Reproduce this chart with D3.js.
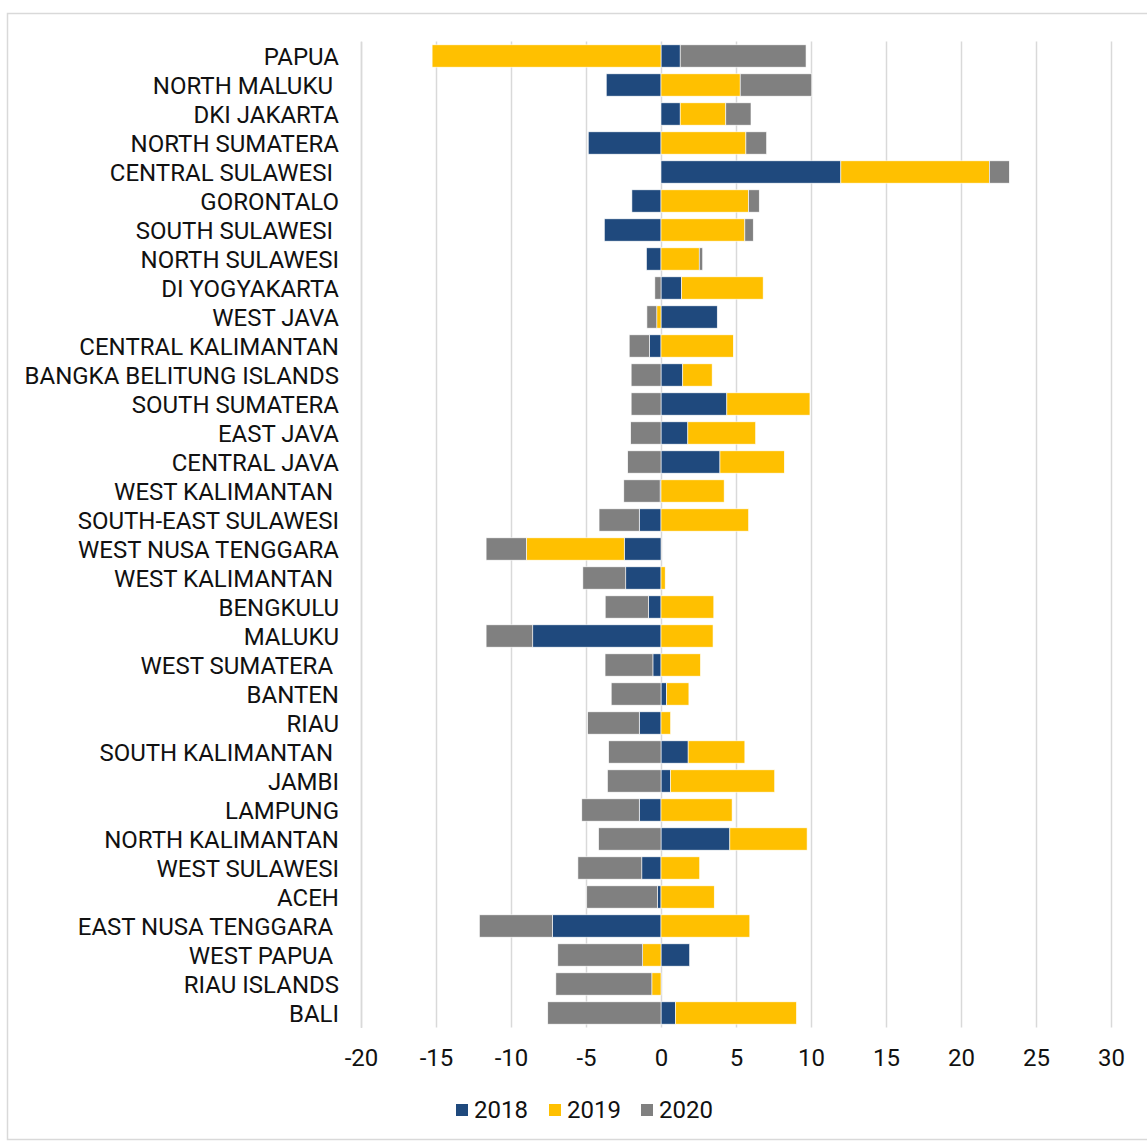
<!DOCTYPE html>
<html>
<head>
<meta charset="utf-8">
<script src="https://cdn.jsdelivr.net/npm/d3@7"></script>
<style>
  html, body { margin: 0; padding: 0; background: #fff; }
  svg { display: block; }
  svg text { font-family: Roboto, "Noto Sans", sans-serif; }
  .cat text { white-space: pre; }
</style>
</head>
<body>
<svg id="chart" width="1147" height="1142"></svg>
<script>
// Provinces, top to bottom (a trailing space is part of some labels)
const provinces = [
  "PAPUA", "NORTH MALUKU ", "DKI JAKARTA", "NORTH SUMATERA", "CENTRAL SULAWESI ",
  "GORONTALO", "SOUTH SULAWESI ", "NORTH SULAWESI", "DI YOGYAKARTA", "WEST JAVA",
  "CENTRAL KALIMANTAN", "BANGKA BELITUNG ISLANDS", "SOUTH SUMATERA", "EAST JAVA",
  "CENTRAL JAVA", "WEST KALIMANTAN ", "SOUTH-EAST SULAWESI", "WEST NUSA TENGGARA",
  "WEST KALIMANTAN ", "BENGKULU", "MALUKU", "WEST SUMATERA ", "BANTEN", "RIAU",
  "SOUTH KALIMANTAN ", "JAMBI", "LAMPUNG", "NORTH KALIMANTAN", "WEST SULAWESI",
  "ACEH", "EAST NUSA TENGGARA ", "WEST PAPUA ", "RIAU ISLANDS", "BALI"
];

// Yearly values per province, same order as above
const v2018 = [
   1.28, -3.65,  1.28, -4.85, 11.99, -1.94, -3.78, -0.97,  1.38,  3.75,
  -0.77,  1.45,  4.39,  1.79,  3.93, -0.06, -1.45, -2.45, -2.35, -0.84,
  -8.55, -0.54,  0.38, -1.45,  1.81,  0.64, -1.45,  4.59, -1.28, -0.23,
  -7.24,  1.91,  0.00,  0.97
];
const v2019 = [
 -15.26,  5.28,  3.04,  5.66,  9.90,  5.84,  5.59,  2.55,  5.43, -0.28,
   4.82,  1.96,  5.54,  4.52,  4.29,  4.21,  5.84, -6.53,  0.28,  3.52,
   3.47,  2.63,  1.48,  0.64,  3.78,  6.94,  4.74,  5.15,  2.58,  3.55,
   5.92, -1.22, -0.61,  8.06
];
const v2020 = [
   8.39,  4.77,  1.68,  1.38,  1.33,  0.71,  0.56,  0.23, -0.41, -0.66,
  -1.35, -1.99, -1.99, -2.02, -2.22, -2.42, -2.68, -2.68, -2.86, -2.88,
  -3.11, -3.19, -3.32, -3.44, -3.49, -3.57, -3.83, -4.16, -4.26, -4.72,
  -4.87, -5.66, -6.40, -7.55
];

const seriesNames = ["2018", "2019", "2020"];
const seriesColors = ["#1f497d", "#ffc000", "#808080"];
const xTicks = [-20, -15, -10, -5, 0, 5, 10, 15, 20, 25, 30];

// Rows for the stack layout
const rows = provinces.map((p, i) => ({
  idx: i, name: p, "2018": v2018[i], "2019": v2019[i], "2020": v2020[i]
}));

const svg = d3.select("#chart");
const FONT = 'Roboto, "Noto Sans", sans-serif';
const FS = 24;

// Outer frame
svg.append("rect")
  .attr("x", 7.5).attr("y", 13.5)
  .attr("width", 1150).attr("height", 1126)
  .attr("fill", "#fff").attr("stroke", "#d9d9d9").attr("stroke-width", 1.5);

const x = d3.scaleLinear().domain([-20, 30]).range([361, 1111]);
const y = d3.scaleBand()
  .domain(rows.map(d => d.idx))
  .range([41.5, 1027.5])
  .paddingInner(0.23)
  .paddingOuter(0.115);

// Vertical gridlines
svg.append("g").selectAll("line")
  .data(xTicks)
  .join("line")
  .attr("x1", d => Math.round(x(d)) + 0.5)
  .attr("x2", d => Math.round(x(d)) + 0.5)
  .attr("y1", 41.5).attr("y2", 1027.5)
  .attr("stroke", "#d9d9d9").attr("stroke-width", 1.5);

// Diverging stacks: positives grow right of zero, negatives left
const stack = d3.stack().keys(seriesNames).offset(d3.stackOffsetDiverging);
const layers = stack(rows);

svg.append("g").selectAll("g")
  .data(layers)
  .join("g")
  .attr("fill", (d, i) => seriesColors[i])
  .selectAll("rect")
  .data(d => d)
  .join("rect")
  .attr("x", d => x(Math.min(d[0], d[1])))
  .attr("width", d => Math.abs(x(d[1]) - x(d[0])))
  .attr("y", d => y(d.data.idx))
  .attr("height", y.bandwidth())
  .attr("stroke", "#fff")
  .attr("stroke-width", 0.6);

// Category axis
const yAxis = d3.axisLeft(y)
  .tickFormat(i => provinces[i])
  .tickSize(0)
  .tickPadding(22);
const gy = svg.append("g")
  .attr("class", "cat")
  .attr("transform", "translate(361,0)")
  .call(yAxis)
  .attr("font-family", FONT)
  .attr("font-size", FS);
gy.select(".domain").attr("stroke", "#d9d9d9").attr("stroke-width", 1.5);
gy.selectAll("text").attr("fill", "#111").attr("dy", "0.36em");

// Value axis (plain hyphen for negatives)
const xAxis = d3.axisBottom(x)
  .tickValues(xTicks)
  .tickFormat(d => String(d))
  .tickSize(0)
  .tickPadding(21);
const gx = svg.append("g")
  .attr("transform", "translate(0,1027.5)")
  .call(xAxis)
  .attr("font-family", FONT)
  .attr("font-size", FS);
gx.select(".domain").remove();
gx.selectAll("text").attr("fill", "#111");

// Legend
const legendX = [456, 549, 641];
const legend = svg.append("g")
  .attr("font-family", FONT)
  .attr("font-size", FS)
  .selectAll("g")
  .data(seriesNames)
  .join("g")
  .attr("transform", (d, i) => `translate(${legendX[i]},1110)`);
legend.append("rect")
  .attr("x", 0).attr("y", -6)
  .attr("width", 12).attr("height", 12)
  .attr("fill", (d, i) => seriesColors[i]);
legend.append("text")
  .attr("x", 18).attr("y", 0).attr("dy", "0.35em")
  .attr("fill", "#111")
  .text(d => d);
</script>
</body>
</html>
